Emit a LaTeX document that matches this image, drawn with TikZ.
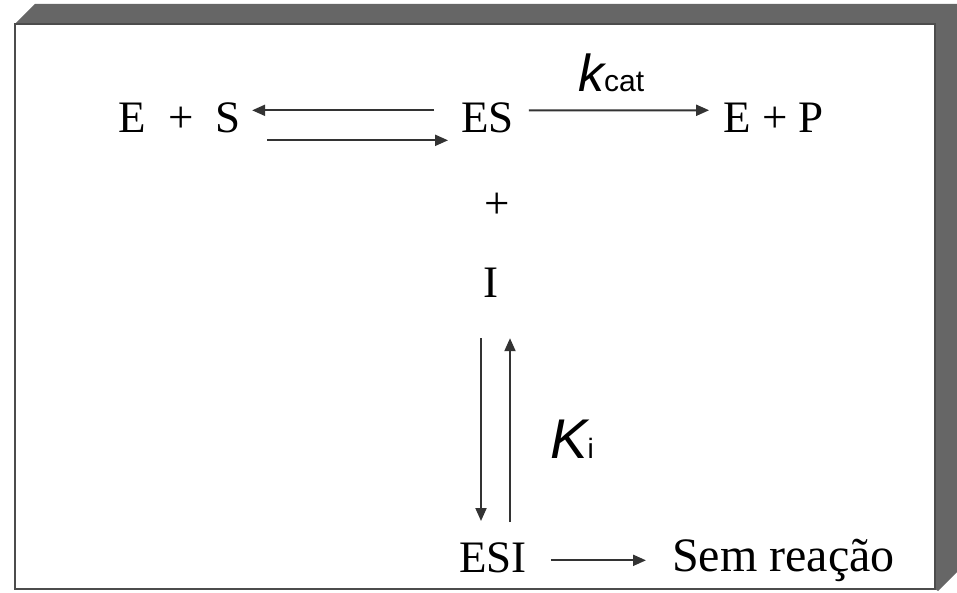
\documentclass[tikz,border=0pt]{standalone}
\usepackage{fontspec}
\setmainfont{Liberation Serif}
\newfontfamily\helv{Liberation Sans}
\usetikzlibrary{arrows.meta}

\begin{document}
\begin{tikzpicture}[x=1pt,y=-1pt,
  species/.style={font=\fontsize{45}{50}\selectfont, inner sep=0pt, anchor=base},
  rate/.style={font=\helv\itshape, inner sep=0pt, anchor=base west},
  reac/.style={line width=2pt, black!80, -{Triangle[length=13pt,width=11pt]}}]
  \useasboundingbox (0,0) rectangle (957,593);
  \fill[black!60] (15,24) -- (35,4) -- (957,4) -- (957,572) -- (938,591) -- (935,589) -- (935,24) -- cycle;
  \draw[black!70, line width=1.5pt, fill=white] (15,24) rectangle (935,589);

  \node[species] (es+s) at (179.5,133) {E\ \ +\ \ S};
  \node[species] (es) at (487.5,133) {ES};
  \node[species] (ep) at (773.5,133) {E + P};
  \node[species] (plus) at (497,219) {+};
  \node[species] (i) at (491,297) {I};
  \node[species] (esi) at (493,572) {ESI};
  \node[species, anchor=base west, font=\fontsize{48}{50}\selectfont] (nr) at (672,571) {Sem reação};

  \node[rate] (kcat) at (578,92) {{\fontsize{52}{52}\selectfont k}{\fontsize{30}{30}\selectfont\upshape cat}};
  \node[rate] (ki) at (550,458) {{\fontsize{56}{56}\selectfont K}{\fontsize{28}{28}\selectfont\upshape i}};

  \draw[reac] ([xshift=-27pt,yshift=8pt]es.west) -- ([xshift=11pt,yshift=8pt]es+s.east);
  \draw[reac] ([xshift=26pt,yshift=-22pt]es+s.east) -- ([xshift=-13pt,yshift=-22pt]es.west);
  \draw[reac] ([xshift=15pt,yshift=8pt]es.east) -- ([xshift=-14pt,yshift=8pt]ep.west);
  \draw[reac] ([xshift=-10pt,yshift=-41pt]i.south) -- ([xshift=-12pt,yshift=21pt]esi.north);
  \draw[reac] ([xshift=17pt,yshift=20pt]esi.north) -- ([xshift=19pt,yshift=-41pt]i.south);
  \draw[reac] ([xshift=24pt,yshift=-3pt]esi.east) -- ([xshift=-26pt,yshift=-3pt]esi.east -| nr.west);
\end{tikzpicture}
\end{document}
